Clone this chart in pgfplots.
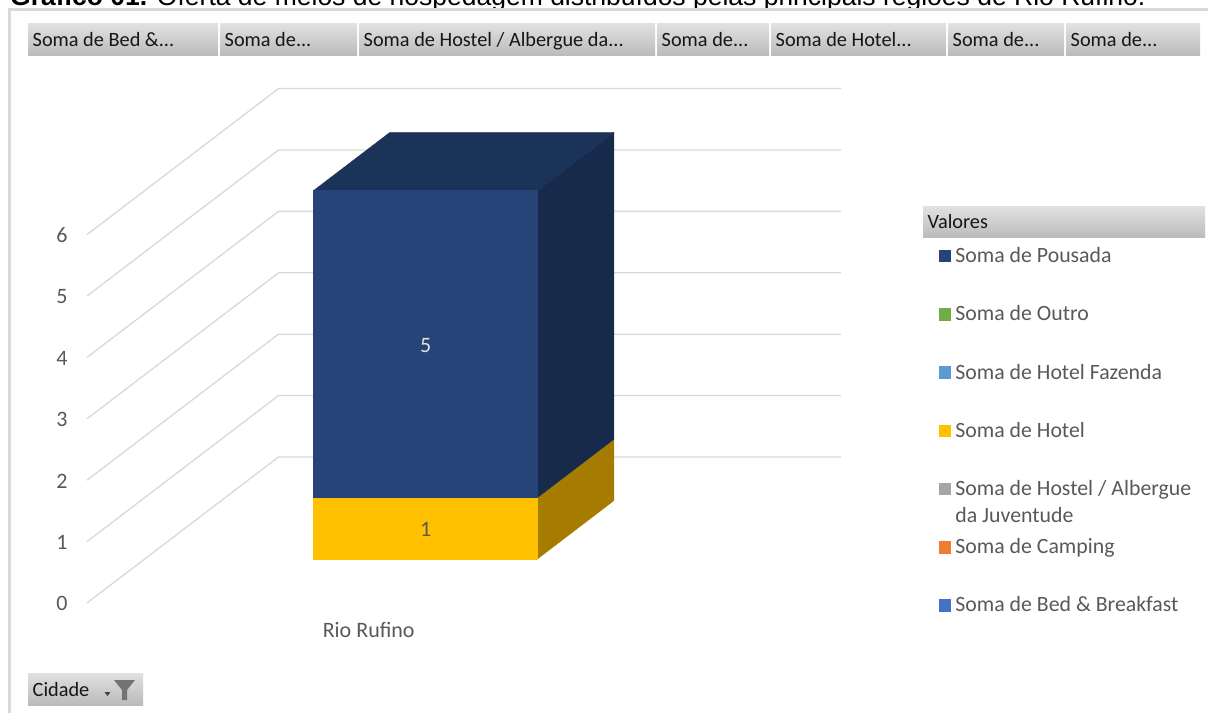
\documentclass[border=0pt]{standalone}
\usepackage{fontspec}
\setmainfont{Carlito}
\newfontfamily\arial{Liberation Sans}
\usepackage{pgfplots}
\pgfplotsset{compat=1.18}
\definecolor{pousada}{HTML}{264478}
\definecolor{pousadatop}{HTML}{1C3359}
\definecolor{pousadaside}{HTML}{182A4B}
\definecolor{hotel}{HTML}{FFC000}
\definecolor{hotelside}{HTML}{A67C00}
\definecolor{outro}{HTML}{70AD47}
\definecolor{fazenda}{HTML}{5B9BD5}
\definecolor{hostel}{HTML}{A5A5A5}
\definecolor{camping}{HTML}{ED7D31}
\definecolor{bed}{HTML}{4472C4}
\definecolor{grade}{HTML}{D9D9D9}
\definecolor{rotulo}{HTML}{595959}
\definecolor{botao}{HTML}{161616}
\newcommand{\botao}[5]{% x1 x2 ytop ybottom text (pixels from top)
  \shade[top color=black!12,bottom color=black!27] (#1,713-#3) rectangle (#2,713-#4);
  \node[anchor=base west,inner sep=0pt,text=botao,font=\fontsize{20.3}{20.3}\selectfont] at (#1+4.5,713-#4+9) {#5};}
\newcommand{\leg}[1]{\parbox[t]{238pt}{\raggedright\fontsize{21.8}{27}\selectfont #1}}
\begin{document}
\begin{tikzpicture}[x=1pt,y=1pt]
\path[use as bounding box] (0,0) rectangle (1208,713);
\clip (0,0) rectangle (1208,713);
% title, cut by the frame as in the source
\node[anchor=base west,inner sep=0pt,font=\arial\fontsize{26.5}{26.5}\selectfont] at (10,707) {\textbf{Gráfico 01.} Oferta de meios de hospedagem distribuídos pelas principais regiões de Rio Rufino.};
\fill[white] (10,0) rectangle (1208,703.5);
\draw[grade,line width=3pt] (9.5,0) -- (9.5,703.5) -- (1208,703.5);
% field buttons
\botao{28}{218}{24}{56}{Soma de Bed \&...}
\botao{220}{357}{24}{56}{Soma de...}
\botao{359}{655}{24}{56}{Soma de Hostel / Albergue da...}
\botao{657}{769}{24}{56}{Soma de...}
\botao{771}{946}{24}{56}{Soma de Hotel...}
\botao{948}{1064}{24}{56}{Soma de...}
\botao{1066}{1200}{24}{56}{Soma de...}
\botao{923}{1205}{207}{238}{Valores}
\botao{28}{143}{673}{705}{Cidade}
% funnel and drop arrow of the filter button
\fill[black!55] (114,713-680) -- (135,713-680) -- (127,713-690) -- (127,713-700) -- (122,713-700) -- (122,713-690) -- cycle;
\fill[black!75] (104.5,713-692) -- (110.5,713-692) -- (107.5,713-696) -- cycle;

\begin{axis}[
  at={(144.7pt,154pt)},anchor=origin,
  disabledatascaling,
  x={(1pt,0pt)},y={(1pt,0.7625pt)},z={(0pt,61.4pt)},
  xmin=0,xmax=562.5,ymin=-57.7,ymax=133.8,zmin=0,zmax=6,
  clip=false,
  axis line style={draw=none},
  major tick length=0pt,
  ytick=\empty,
  xtick={281},xticklabels={Rio Rufino},
  ztick={0,1,2,3,4,5,6},
  /pgf/number format/assume math mode=true,
  tick label style={font=\fontsize{22}{22}\selectfont,text=rotulo},
  z tick label style={anchor=center,xshift=-25pt,yshift=-0.7pt},
  x tick label style={anchor=center,yshift=-27pt,xshift=0.7pt},
  legend style={at={(axis cs:793.8,0,5.075)},anchor=north west,draw=none,fill=none,
    inner sep=0pt,outer sep=0pt,row sep=41.6pt,
    cells={anchor=base west},
    nodes={inner sep=0pt,text=rotulo}},
  legend image code/.code={\fill[#1] (0pt,1pt) rectangle (11.5pt,12.5pt);\path (16.5pt,0pt);},
]
% grid lines: side wall, back wall
\addplot3[grade,line width=1.3pt,forget plot] coordinates {(0,-57.7,0) (0,133.8,0) (562.5,133.8,0)};
\addplot3[grade,line width=1.3pt,forget plot] coordinates {(0,-57.7,1) (0,133.8,1) (562.5,133.8,1)};
\addplot3[grade,line width=1.3pt,forget plot] coordinates {(0,-57.7,2) (0,133.8,2) (562.5,133.8,2)};
\addplot3[grade,line width=1.3pt,forget plot] coordinates {(0,-57.7,3) (0,133.8,3) (562.5,133.8,3)};
\addplot3[grade,line width=1.3pt,forget plot] coordinates {(0,-57.7,4) (0,133.8,4) (562.5,133.8,4)};
\addplot3[grade,line width=1.3pt,forget plot] coordinates {(0,-57.7,5) (0,133.8,5) (562.5,133.8,5)};
\addplot3[grade,line width=1.3pt,forget plot] coordinates {(0,-57.7,6) (0,133.8,6) (562.5,133.8,6)};
% Hotel = 1
\addplot3[fill=hotelside,draw=hotelside,line width=0.3pt,forget plot] coordinates {(392.7,0,0) (392.7,76.5,0) (392.7,76.5,1) (392.7,0,1)} -- cycle;
\addplot3[fill=hotel,draw=hotel,line width=0.3pt,forget plot] coordinates {(168.8,0,0) (392.7,0,0) (392.7,0,1) (168.8,0,1)} -- cycle;
% Pousada = 5, on top
\addplot3[fill=pousadaside,draw=pousadaside,line width=0.3pt,forget plot] coordinates {(392.7,0,1) (392.7,76.5,1) (392.7,76.5,6) (392.7,0,6)} -- cycle;
\addplot3[fill=pousadatop,draw=pousadatop,line width=0.3pt,forget plot] coordinates {(168.8,0,6) (392.7,0,6) (392.7,76.5,6) (168.8,76.5,6)} -- cycle;
\addplot3[fill=pousada,draw=pousada,line width=0.3pt,forget plot] coordinates {(168.8,0,1) (392.7,0,1) (392.7,0,6) (168.8,0,6)} -- cycle;
\node[font=\fontsize{22}{22}\selectfont,text=rotulo,yshift=-1pt] at (axis cs:281,0,0.5) {1};
\node[font=\fontsize{22}{22}\selectfont,text=black!12,yshift=-1.5pt] at (axis cs:281,0,3.5) {5};
% legend
\addlegendimage{pousada}\addlegendentry{\leg{Soma de Pousada}}
\addlegendimage{outro}\addlegendentry{\leg{Soma de Outro}}
\addlegendimage{fazenda}\addlegendentry{\leg{Soma de Hotel Fazenda}}
\addlegendimage{hotel}\addlegendentry{\leg{Soma de Hotel}}
\addlegendimage{hostel}\addlegendentry{\leg{Soma de Hostel / Albergue\\da Juventude}}
\addlegendimage{camping}\addlegendentry{\leg{Soma de Camping}}
\addlegendimage{bed}\addlegendentry{\leg{Soma de Bed \& Breakfast}}
\end{axis}
\end{tikzpicture}
\end{document}
